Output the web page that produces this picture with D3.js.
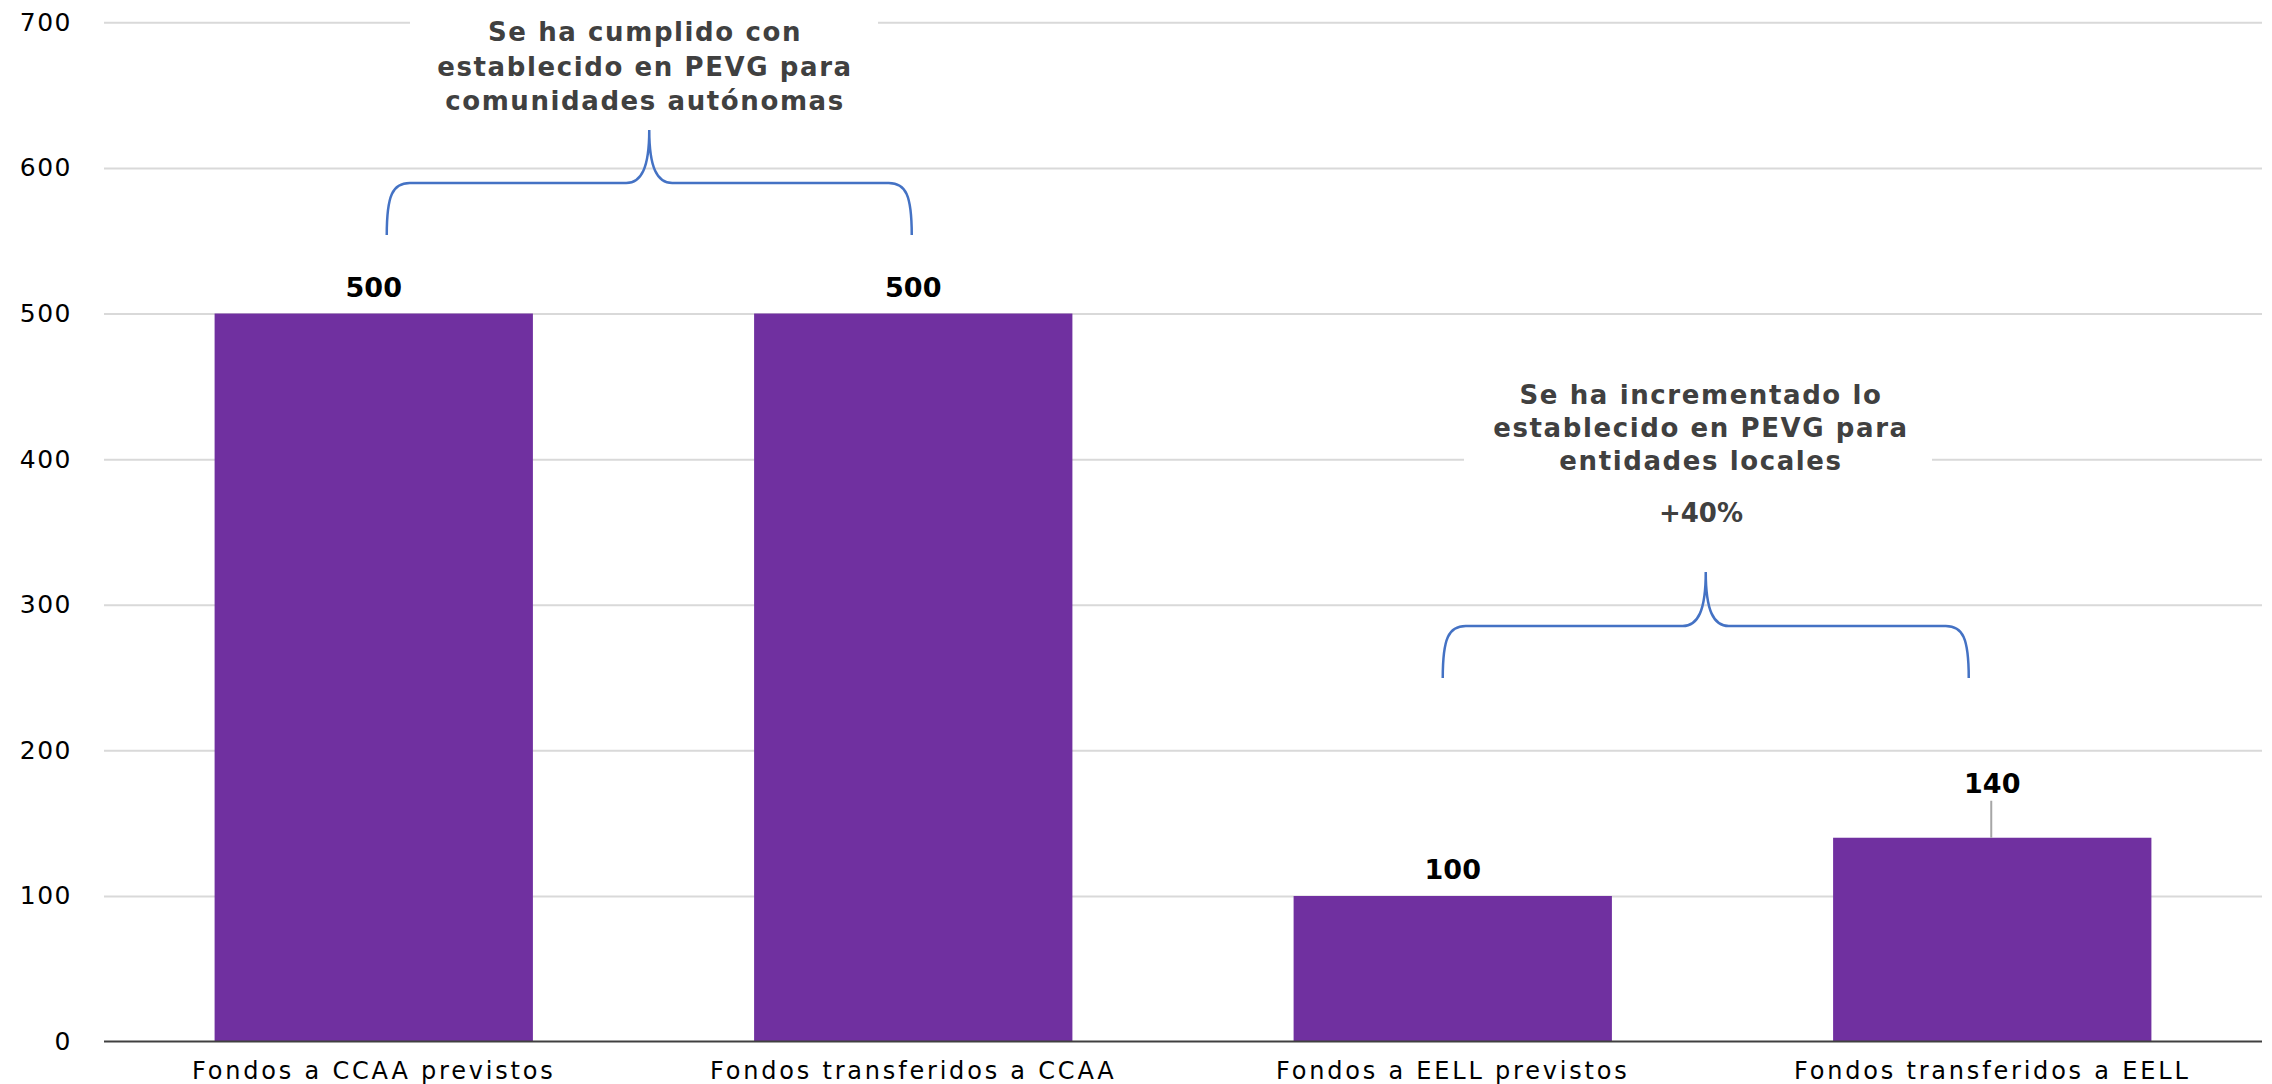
<!DOCTYPE html>
<html>
<head>
<meta charset="utf-8">
<script src="https://cdn.jsdelivr.net/npm/d3@7"></script>
<style>
  html, body { margin: 0; padding: 0; background: #ffffff; }
  svg { display: block; font-family: "DejaVu Sans", sans-serif; }
</style>
</head>
<body>
<svg id="chart" width="2272" height="1084"></svg>
<script>
// ---- data ----
const categories = [
  "Fondos a CCAA previstos",
  "Fondos transferidos a CCAA",
  "Fondos a EELL previstos",
  "Fondos transferidos a EELL"
];
const values = [500, 500, 100, 140];
const yTicks = [0, 100, 200, 300, 400, 500, 600, 700];
const noteCCAA = ["Se ha cumplido con", "establecido en PEVG para", "comunidades autónomas"];
const noteEELL = ["Se ha incrementado lo", "establecido en PEVG para", "entidades locales"];
const noteEELLPct = "+40%";

// ---- layout ----
const svg = d3.select("#chart");
const W = 2272, H = 1084;
const plotLeft = 104, plotRight = 2262, plotTop = 22.3, plotBottom = 1041.6;

svg.append("rect").attr("width", W).attr("height", H).attr("fill", "#ffffff");

const x = d3.scaleBand().domain(categories).range([plotLeft, plotRight])
  .paddingInner(0.41).paddingOuter(0.205);
const y = d3.scaleLinear().domain([0, 700]).range([plotBottom, plotTop]);

// gridlines + y labels
const yAxis = d3.axisLeft(y).tickValues(yTicks).tickSize(-(plotRight - plotLeft)).tickPadding(32)
  .tickFormat(d3.format("d"));
const gy = svg.append("g").attr("transform", `translate(${plotLeft},0)`).call(yAxis);
gy.select(".domain").remove();
gy.selectAll(".tick line").attr("stroke", "#d9d9d9").attr("stroke-width", 2)
  .filter(d => d === 0).remove();
gy.selectAll(".tick text")
  .attr("font-size", 25).attr("fill", "#000").attr("letter-spacing", 1.5)
  .attr("font-family", "DejaVu Sans, sans-serif");

// white annotation boxes (hide gridlines behind notes)
const boxW = 468;
const cx1 = 644, cx2 = 1700;
svg.append("rect").attr("x", cx1 - boxW / 2).attr("y", 0).attr("width", boxW).attr("height", 120).attr("fill", "#fff");
svg.append("rect").attr("x", cx2 - boxW / 2 - 2).attr("y", 368).attr("width", boxW).attr("height", 172).attr("fill", "#fff");

// bars
svg.append("g").selectAll("rect").data(values).join("rect")
  .attr("x", (d, i) => x(categories[i]))
  .attr("y", d => y(d))
  .attr("width", x.bandwidth())
  .attr("height", d => y(0) - y(d))
  .attr("fill", "#7030a0");

// x axis baseline
const xAxis = d3.axisBottom(x).tickSize(0).tickPadding(20);
const gx = svg.append("g").attr("transform", `translate(0,${plotBottom})`).call(xAxis);
gx.select(".domain").attr("stroke", "#404040").attr("stroke-width", 2)
  .attr("d", `M${plotLeft},0H${plotRight}`);
gx.selectAll(".tick text")
  .attr("font-size", 24).attr("fill", "#000").attr("letter-spacing", 2.8)
  .attr("font-family", "DejaVu Sans, sans-serif")
  .attr("dy", "0.71em");

// value labels
const raisedIdx = 3; // label lifted with a leader line
const lbl = svg.append("g");
values.forEach((v, i) => {
  const cx = x(categories[i]) + x.bandwidth() / 2;
  const top = y(v);
  const base = i === raisedIdx ? top - 45 : top - 17;
  lbl.append("text")
    .attr("x", cx).attr("y", base)
    .attr("text-anchor", "middle")
    .attr("font-size", 27).attr("font-weight", "bold")
    .attr("fill", "#000")
    .text(v);
  if (i === raisedIdx) {
    lbl.append("line")
      .attr("x1", cx - 1).attr("x2", cx - 1)
      .attr("y1", base + 8).attr("y2", top)
      .attr("stroke", "#a6a6a6").attr("stroke-width", 2);
  }
});

// annotation texts
function note(lines, cx, firstBase, step) {
  const g = svg.append("g");
  lines.forEach((t, k) => {
    g.append("text")
      .attr("x", cx + 1).attr("y", firstBase + k * step)
      .attr("text-anchor", "middle")
      .attr("font-size", 26).attr("font-weight", "bold").attr("letter-spacing", 1.6)
      .attr("fill", "#404040")
      .text(t);
  });
  return g;
}
note(noteCCAA, cx1, 41, 34.5);
note(noteEELL, cx2, 404, 33);
svg.append("text").attr("x", cx2 + 1).attr("y", 522).attr("text-anchor", "middle")
  .attr("font-size", 26).attr("font-weight", "bold")
  .attr("fill", "#404040").text(noteEELLPct);

// braces
function brace(xl, xr, yb, yf, yt) {
  const xm = (xl + xr) / 2, r = 23;
  const p = d3.path();
  p.moveTo(xl, yb);
  p.bezierCurveTo(xl, yf + 12, xl + 6, yf, xl + r, yf);
  p.lineTo(xm - r, yf);
  p.bezierCurveTo(xm - 8, yf, xm, yf - 15, xm, yt);
  p.moveTo(xm, yt);
  p.bezierCurveTo(xm, yf - 15, xm + 8, yf, xm + r, yf);
  p.lineTo(xr - r, yf);
  p.bezierCurveTo(xr - 6, yf, xr, yf + 12, xr, yb);
  svg.append("path").attr("d", p.toString())
    .attr("fill", "none").attr("stroke", "#4472c4").attr("stroke-width", 2.5);
}
const c = i => x(categories[i]) + x.bandwidth() / 2;
brace(c(0) + 13, c(1) - 1.5, 235, 183, 130);
brace(c(2) - 10, c(3) - 23.5, 678, 626, 572);
</script>
</body>
</html>
